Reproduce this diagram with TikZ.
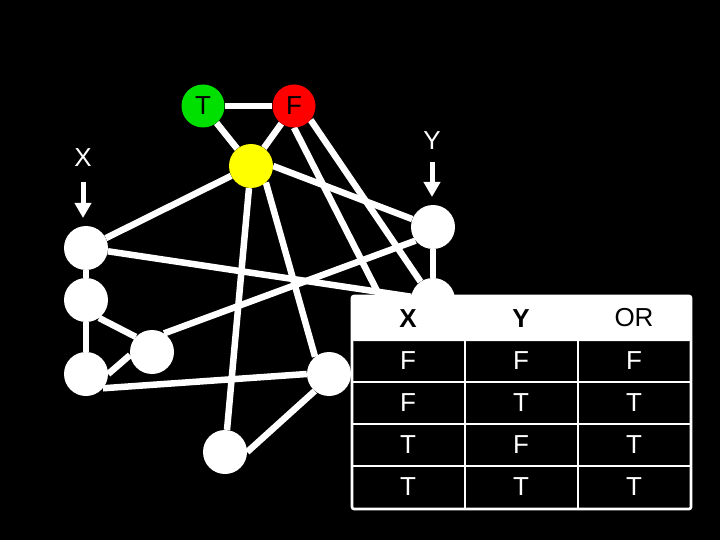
\documentclass[tikz,border=0pt]{standalone}
\usepackage{fontspec}
\setmainfont{Liberation Sans}
\usetikzlibrary{arrows.meta}
\pgfdeclarelayer{edges}
\pgfdeclarelayer{bg}
\pgfsetlayers{bg,edges,main}
\definecolor{tgreen}{RGB}{0,224,0}
\definecolor{fred}{RGB}{255,0,0}
\definecolor{ylw}{RGB}{255,255,0}
\tikzset{
  vert/.style={circle, fill=white, minimum size=44pt, inner sep=0pt},
  lit/.style={circle, minimum size=43pt, inner sep=0pt, text=black, font=\fontsize{26}{26}\selectfont},
  wire/.style={draw=white, line width=6.5pt},
  inarrow/.style={draw=white, line width=5pt, -{Triangle[width=16pt,length=15pt]}},
  lbl/.style={text=white, font=\fontsize{26}{26}\selectfont, inner sep=0pt},
  cell/.style={text=white, font=\fontsize{26}{26}\selectfont, inner sep=0pt},
  head/.style={text=black, font=\fontsize{26}{26}\selectfont, inner sep=0pt},
  grid/.style={draw=white, line width=2.6pt}
}
\begin{document}
\begin{tikzpicture}[x=1pt,y=-1pt]
\begin{pgfonlayer}{bg}
\fill[black] (0,0) rectangle (720,540);
\end{pgfonlayer}
\useasboundingbox (0,0) rectangle (720,540);

% nodes
\node[lit, fill=tgreen] (T) at (203,106) {T};
\node[lit, fill=fred] (F) at (294,106) {F};
\node[circle, fill=ylw, minimum size=44pt, inner sep=0pt] (Yel) at (251,166) {};
\node[vert] (A) at (86,248) {};
\node[vert] (B) at (86,300) {};
\node[vert] (C) at (152,352) {};
\node[vert] (D) at (86,374) {};
\node[vert] (E) at (329,374) {};
\node[vert] (G) at (225,452) {};
\node[vert] (Y1) at (433,227) {};
\node[vert] (Y2) at (433,300) {};
\coordinate (H) at (400,336);

% input labels and arrows
\node[lbl] (Xl) at (83,158) {X};
\node[lbl] (Yl) at (432,141) {Y};
\coordinate (xs) at (83,182);
\coordinate (xt) at (83,218);
\coordinate (ys) at (432,162);
\coordinate (yt) at (432,197);
\draw[inarrow] (xs) -- (xt);
\draw[inarrow] (ys) -- (yt);

% edges
\begin{pgfonlayer}{edges}
\draw[wire] (T) -- (F);
\draw[wire] (T) -- (Yel);
\draw[wire] (F) -- (Yel);
\draw[wire] (Yel) -- (A);
\draw[wire] (Yel.east) -- (Y1);
\draw[wire] (Yel) -- (G);
\draw[wire] (Yel.-48) -- (E.129);
\draw[wire] (F.south) -- (H);
\draw[wire] (F.-40) -- (Y2);
\draw[wire] (A) -- (B);
\draw[wire] (B) -- (D);
\draw[wire] (B.-54) -- (C.137);
\draw[wire] (D.0) -- (C.188);
\draw[wire] (A) -- (Y2);
\draw[wire] (C.57) -- (Y1.218);
\draw[wire] (D.-40) -- (E.west);
\draw[wire] (G.east) -- (E.-130);
\draw[wire] (Y1) -- (Y2);
\end{pgfonlayer}

% truth table
\fill[black] (352,296) rectangle (691,509);
\fill[white, rounded corners=2pt] (352,296) rectangle (691,341);
\draw[grid, rounded corners=2pt] (352,296) rectangle (691,509);
\draw[grid] (352,382) -- (691,382);
\draw[grid] (352,424) -- (691,424);
\draw[grid] (352,466) -- (691,466);
\draw[grid] (465,340) -- (465,509);
\draw[grid] (578,340) -- (578,509);

\node[head, font=\fontsize{26}{26}\selectfont\bfseries] (hX) at (408,319) {X};
\node[head, font=\fontsize{26}{26}\selectfont\bfseries] (hY) at (521,319) {Y};
\node[head] (hOR) at (634,318) {OR};

\node[cell] (r1a) at (408,361) {F};
\node[cell] (r1b) at (521,361) {F};
\node[cell] (r1c) at (634,361) {F};
\node[cell] (r2a) at (408,403) {F};
\node[cell] (r2b) at (521,403) {T};
\node[cell] (r2c) at (634,403) {T};
\node[cell] (r3a) at (408,445) {T};
\node[cell] (r3b) at (521,445) {F};
\node[cell] (r3c) at (634,445) {T};
\node[cell] (r4a) at (408,487) {T};
\node[cell] (r4b) at (521,487) {T};
\node[cell] (r4c) at (634,487) {T};
\end{tikzpicture}
\end{document}
